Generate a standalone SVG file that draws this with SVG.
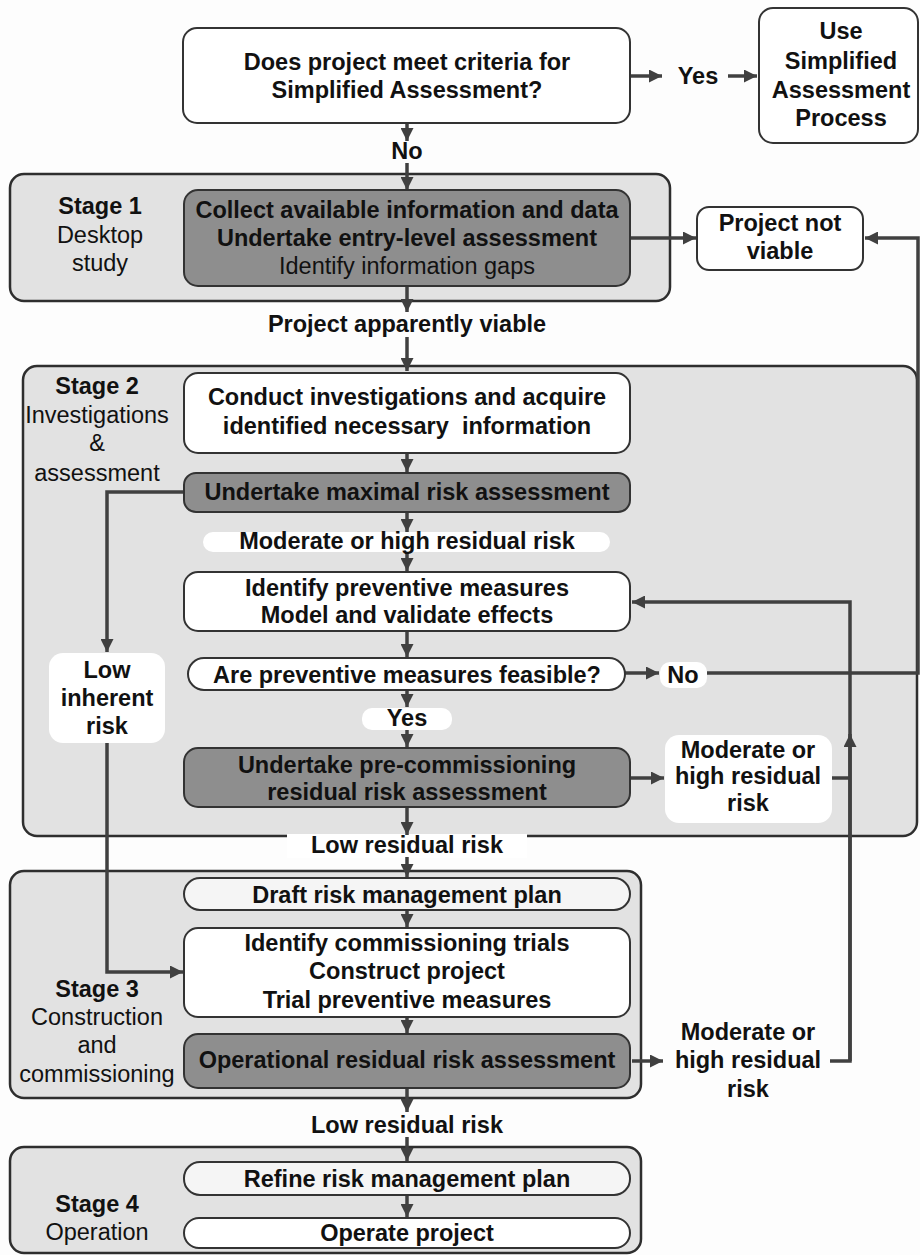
<svg xmlns="http://www.w3.org/2000/svg" width="920" height="1255" viewBox="0 0 920 1255">
<style>
text{font-family:"Liberation Sans",Arial,Helvetica,sans-serif;font-size:23.5px;fill:#111;text-anchor:middle}
.b{font-weight:bold}
.stage{fill:#e2e2e2;stroke:#2e2e2e;stroke-width:2.5}
.wbox{fill:#ffffff;stroke:#333;stroke-width:2}
.dbox{fill:#8e8e8e;stroke:#333;stroke-width:2}
.lbox{fill:#f5f5f5;stroke:#333;stroke-width:2}
.lab{fill:#ffffff;stroke:none}
.c{fill:none;stroke:#404040;stroke-width:3.5}
.a{marker-end:url(#ah)}
</style>
<defs>
<marker id="ah" viewBox="0 0 10 10" refX="10" refY="5" markerWidth="13" markerHeight="13" markerUnits="userSpaceOnUse" orient="auto">
<path d="M0,0 L10,5 L0,10 z" fill="#404040"/>
</marker>
</defs>
<rect x="0" y="0" width="920" height="1255" fill="#fdfdfd"/>

<g id="stage1">
<rect class="stage" x="10" y="174" width="660" height="127" rx="14"/>
<text class="b" x="100" y="214">Stage 1</text>
<text x="100" y="243">Desktop</text>
<text x="100" y="271">study</text>
</g>
<g id="stage2">
<rect class="stage" x="23" y="366" width="894" height="470" rx="14"/>
<text class="b" x="97" y="394">Stage 2</text>
<text x="97" y="423">Investigations</text>
<text x="97" y="451">&amp;</text>
<text x="97" y="481">assessment</text>
</g>
<g id="stage3">
<rect class="stage" x="10" y="871" width="631" height="227" rx="14"/>
<text class="b" x="97" y="997">Stage 3</text>
<text x="97" y="1025">Construction</text>
<text x="97" y="1053">and</text>
<text x="97" y="1082">commissioning</text>
</g>
<g id="stage4">
<rect class="stage" x="10" y="1147" width="631" height="106" rx="14"/>
<text class="b" x="97" y="1212">Stage 4</text>
<text x="97" y="1240">Operation</text>
</g>

<g id="lbl-low-residual-1">
<rect class="lab" x="287" y="834" width="240" height="24"/>
<text class="b" x="407" y="853">Low residual risk</text>
</g>

<g id="connectors">
<path class="c a" d="M630 76 H662"/>
<path class="c a" d="M728 76 H757"/>
<path class="c a" d="M407 123 V141"/>
<path class="c a" d="M407 163 V190"/>
<path class="c a" d="M630 238 H696"/>
<path class="c a" d="M707 673 H918 V238 H865"/>
<path class="c a" d="M407 286 V312"/>
<path class="c a" d="M407 337 V371"/>
<path class="c a" d="M407 453 V472"/>
<path class="c a" d="M407 512 V532"/>
<path class="c a" d="M407 550 V571"/>
<path class="c a" d="M407 631 V657"/>
<path class="c a" d="M625 673 H659"/>
<path class="c a" d="M407 690 V707"/>
<path class="c a" d="M407 730 V747"/>
<path class="c a" d="M630 778 H664"/>
<path class="c" d="M832 778 H850"/>
<path class="c a" d="M830 1061 H850 V602 H632"/>
<path class="c a" d="M850 1061 V734"/>
<path class="c a" d="M184 492 H107 V652"/>
<path class="c a" d="M107 743 V972 H183"/>
<path class="c a" d="M407 807 V835"/>
<path class="c a" d="M407 857 V877"/>
<path class="c a" d="M407 910 V927"/>
<path class="c a" d="M407 1017 V1033"/>
<path class="c a" d="M632 1061 H663"/>
<path class="c a" d="M407 1088 V1112"/>
<path class="c a" d="M407 1137 V1161"/>
<path class="c a" d="M407 1195 V1217"/>
</g>

<g id="n-criteria">
<rect class="wbox" x="183" y="28" width="447" height="95" rx="14"/>
<text class="b" x="407" y="70">Does project meet criteria for</text>
<text class="b" x="407" y="98">Simplified Assessment?</text>
</g>
<g id="lbl-yes-top">
<text class="b" x="698" y="84">Yes</text>
</g>
<g id="n-simplified">
<rect class="wbox" x="759" y="8" width="159" height="135" rx="14"/>
<text class="b" x="841" y="39">Use</text>
<text class="b" x="841" y="69">Simplified</text>
<text class="b" x="841" y="98">Assessment</text>
<text class="b" x="841" y="126">Process</text>
</g>
<g id="lbl-no-top">
<text class="b" x="407" y="159">No</text>
</g>
<g id="n-collect">
<rect class="dbox" x="184" y="190" width="446" height="96" rx="14"/>
<text class="b" x="407" y="218">Collect available information and data</text>
<text class="b" x="407" y="246">Undertake entry-level assessment</text>
<text x="407" y="274">Identify information gaps</text>
</g>
<g id="n-notviable">
<rect class="wbox" x="697" y="207" width="166" height="63" rx="12"/>
<text class="b" x="780" y="231">Project not</text>
<text class="b" x="780" y="259">viable</text>
</g>
<g id="lbl-apparently">
<text class="b" x="407" y="332">Project apparently viable</text>
</g>
<g id="n-conduct">
<rect class="wbox" x="184" y="373" width="446" height="80" rx="14"/>
<text class="b" x="407" y="405">Conduct investigations and acquire</text>
<text class="b" x="407" y="434" style="white-space:pre">identified necessary  information</text>
</g>
<g id="n-maximal">
<rect class="dbox" x="184" y="473" width="446" height="39" rx="12"/>
<text class="b" x="407" y="500">Undertake maximal risk assessment</text>
</g>
<g id="lbl-moderate-1">
<rect class="lab" x="203" y="532" width="407" height="20" rx="10"/>
<text class="b" x="407" y="549">Moderate or high residual risk</text>
</g>
<g id="n-identify">
<rect class="wbox" x="184" y="572" width="446" height="59" rx="14"/>
<text class="b" x="407" y="596">Identify preventive measures</text>
<text class="b" x="407" y="623">Model and validate effects</text>
</g>
<g id="n-feasible">
<rect class="wbox" x="188" y="658" width="437" height="32" rx="16"/>
<text class="b" x="407" y="683">Are preventive measures feasible?</text>
</g>
<g id="lbl-no">
<rect class="lab" x="660" y="662" width="47" height="26" rx="10"/>
<text class="b" x="683" y="683">No</text>
</g>
<g id="lbl-yes">
<rect class="lab" x="362" y="708" width="90" height="22" rx="10"/>
<text class="b" x="407" y="726">Yes</text>
</g>
<g id="n-precomm">
<rect class="dbox" x="184" y="748" width="446" height="59" rx="14"/>
<text class="b" x="407" y="773">Undertake pre-commissioning</text>
<text class="b" x="407" y="800">residual risk assessment</text>
</g>
<g id="lbl-moderate-2">
<rect class="lab" x="665" y="735" width="167" height="88" rx="14"/>
<text class="b" x="748" y="758">Moderate or</text>
<text class="b" x="748" y="784">high residual</text>
<text class="b" x="748" y="811">risk</text>
</g>
<g id="lbl-low-inherent">
<rect class="lab" x="49" y="653" width="116" height="90" rx="14"/>
<text class="b" x="107" y="678">Low</text>
<text class="b" x="107" y="706">inherent</text>
<text class="b" x="107" y="734">risk</text>
</g>
<g id="n-draft">
<rect class="lbox" x="184" y="878" width="446" height="32" rx="16"/>
<text class="b" x="407" y="903">Draft risk management plan</text>
</g>
<g id="n-trials">
<rect class="wbox" x="184" y="928" width="446" height="89" rx="14"/>
<text class="b" x="407" y="951">Identify commissioning trials</text>
<text class="b" x="407" y="979">Construct project</text>
<text class="b" x="407" y="1008">Trial preventive measures</text>
</g>
<g id="n-operational">
<rect class="dbox" x="184" y="1034" width="446" height="54" rx="14"/>
<text class="b" x="407" y="1068">Operational residual risk assessment</text>
</g>
<g id="lbl-moderate-3">
<text class="b" x="748" y="1040">Moderate or</text>
<text class="b" x="748" y="1068">high residual</text>
<text class="b" x="748" y="1097">risk</text>
</g>
<g id="lbl-low-residual-2">
<text class="b" x="407" y="1133">Low residual risk</text>
</g>
<g id="n-refine">
<rect class="lbox" x="184" y="1162" width="446" height="33" rx="16"/>
<text class="b" x="407" y="1187">Refine risk management plan</text>
</g>
<g id="n-operate">
<rect class="wbox" x="184" y="1218" width="446" height="30" rx="15"/>
<text class="b" x="407" y="1241">Operate project</text>
</g>
</svg>
